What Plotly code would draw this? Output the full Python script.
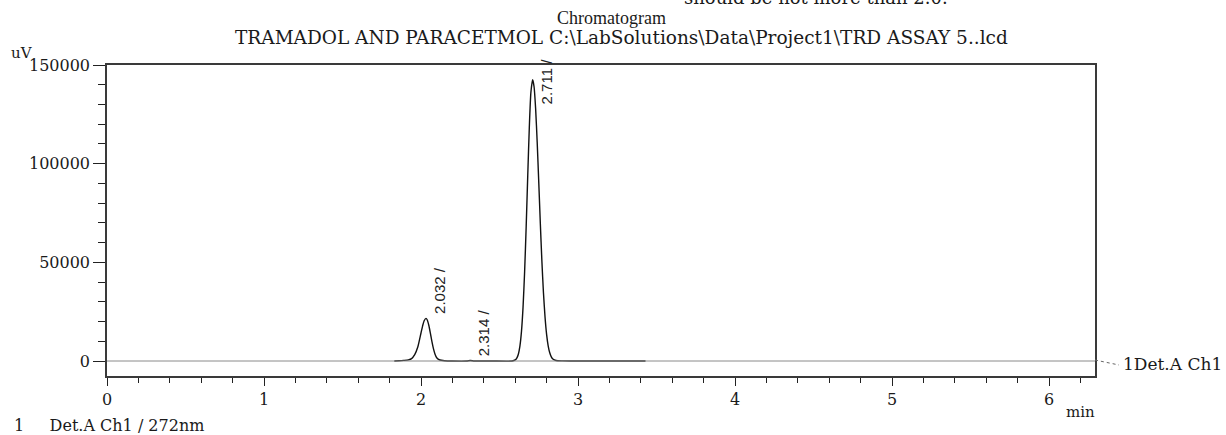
import plotly.graph_objects as go

# ---- data ----
time_min = [1.83, 1.86, 1.89, 1.92, 1.94, 1.96, 1.98, 2.00, 2.01, 2.02, 2.032,
            2.04, 2.05, 2.06, 2.07, 2.08, 2.09, 2.10, 2.12, 2.15, 2.20,
            2.29, 2.314, 2.34, 2.45, 2.58,
            2.60, 2.61, 2.62, 2.63, 2.64, 2.65, 2.66, 2.67, 2.68, 2.69, 2.70, 2.711,
            2.72, 2.73, 2.74, 2.75, 2.76, 2.77, 2.78, 2.79, 2.80, 2.81, 2.82, 2.83,
            2.84, 2.86, 2.90, 2.95, 3.10, 3.43]
signal_uv = [0, 100, 300, 600, 1200, 3200, 7200, 14200, 17700, 20400, 21600,
             20800, 18000, 14000, 9700, 6000, 3300, 1650, 500, 150, 0,
             0, 250, 0, 0, 0,
             550, 1450, 3450, 7550, 15000, 27300, 45200, 68300, 94200, 118600, 136100, 142500,
             139100, 128000, 111000, 90700, 69800, 50600, 34600, 22300, 13500, 7700, 4150, 2100,
             1000, 250, 50, 0, 0, 0]

peak_times = [2.032, 2.314, 2.711]
peak_heights = [21600, 250, 142500]
peak_labels = ["2.032 /", "2.314 /", "2.711 /"]

y_ticks = [0, 50000, 100000, 150000]
x_ticks = [0, 1, 2, 3, 4, 5, 6]

title_1 = "Chromatogram"
title_2 = "TRAMADOL AND PARACETMOL C:\\LabSolutions\\Data\\Project1\\TRD ASSAY 5..lcd"
y_unit = "uV"
x_unit = "min"
channel_label = "1Det.A Ch1"
footnote = "1&nbsp;&nbsp;&nbsp;&nbsp;&nbsp;Det.A Ch1 / 272nm"
top_text = "should be not more than 2.0."

# ---- layout geometry (pixels) ----
W, H = 1226, 435
L, R, T, B = 107, 1095, 65, 376
pw, ph = R - L, B - T

def px(x):
    return (x - L) / pw

def py(y):
    return (B - y) / ph

serif = "DejaVu Serif, Liberation Serif, serif"
times = "Liberation Serif, Times New Roman, serif"
narrow = "Liberation Sans Narrow, Liberation Sans, Arial, sans-serif"
ink = "#1a1a1a"

fig = go.Figure()
fig.add_trace(go.Scatter(x=time_min, y=signal_uv, mode="lines",
                         line=dict(color="#111", width=1.4, shape="spline", smoothing=0.6),
                         hoverinfo="skip", showlegend=False))

annotations = []
shifts = [(14, 2, "bottom"), (13, 2, "bottom"), (14, -27, "bottom")]
for t, h, lab, (xs, ys, ya) in zip(peak_times, peak_heights, peak_labels, shifts):
    annotations.append(dict(x=t, y=h, xref="x", yref="y", text=lab, showarrow=False,
                            textangle=-90, xanchor="center", yanchor=ya, xshift=xs, yshift=ys,
                            font=dict(family=narrow, size=15, color="#222")))

annotations += [
    dict(x=px(611), y=py(18), xref="paper", yref="paper", text=title_1, showarrow=False,
         xanchor="center", yanchor="middle", font=dict(family=times, size=18, color=ink)),
    dict(x=px(621), y=py(38), xref="paper", yref="paper", text=title_2, showarrow=False,
         xanchor="center", yanchor="middle", font=dict(family=serif, size=18.5, color=ink)),
    dict(x=px(22), y=py(53), xref="paper", yref="paper", text=y_unit, showarrow=False,
         xanchor="center", yanchor="middle", font=dict(family=serif, size=15, color=ink)),
    dict(x=px(1080), y=py(412), xref="paper", yref="paper", text=x_unit, showarrow=False,
         xanchor="center", yanchor="middle", font=dict(family=serif, size=15, color=ink)),
    dict(x=px(1121), y=py(364), xref="paper", yref="paper", text=channel_label, showarrow=False,
         xanchor="left", yanchor="middle", font=dict(family=serif, size=17, color=ink)),
    dict(x=px(12), y=py(425), xref="paper", yref="paper", text=footnote, showarrow=False,
         xanchor="left", yanchor="middle", font=dict(family=serif, size=16, color=ink)),
    dict(x=px(816), y=py(-2), xref="paper", yref="paper", text=top_text, showarrow=False,
         xanchor="center", yanchor="middle", font=dict(family=serif, size=18, color=ink)),
]

shapes = [
    dict(type="line", xref="paper", yref="y", x0=0, x1=1, y0=0, y1=0,
         line=dict(color="#8a8a8a", width=1)),
    dict(type="line", xref="paper", yref="paper", x0=1, x1=px(1119), y0=py(360), y1=py(365),
         line=dict(color="#666", width=1, dash="dot")),
]

axis_common = dict(showline=True, linecolor="#3a3a3a", linewidth=1.5, mirror=True,
                   showgrid=False, zeroline=False, ticks="outside", tickcolor="#222",
                   tickfont=dict(family=serif, size=16, color=ink))

fig.update_layout(
    width=W, height=H, margin=dict(l=L, r=W - R, t=T, b=H - B, pad=0),
    paper_bgcolor="white", plot_bgcolor="white",
    showlegend=False, annotations=annotations, shapes=shapes,
    xaxis=dict(range=[0, 6.293], tickvals=x_ticks, ticklen=8, tickwidth=1.3,
               minor=dict(dtick=0.2, ticklen=5, tickwidth=1.3, ticks="outside", tickcolor="#222"),
               **axis_common),
    yaxis=dict(range=[-7600, 150000], tickvals=y_ticks, ticklen=12, tickwidth=1.3,
               tickformat="d",
               minor=dict(dtick=10000, ticklen=7, tickwidth=1.3, ticks="outside", tickcolor="#222"),
               **axis_common),
)

fig.write_html("out.html")
